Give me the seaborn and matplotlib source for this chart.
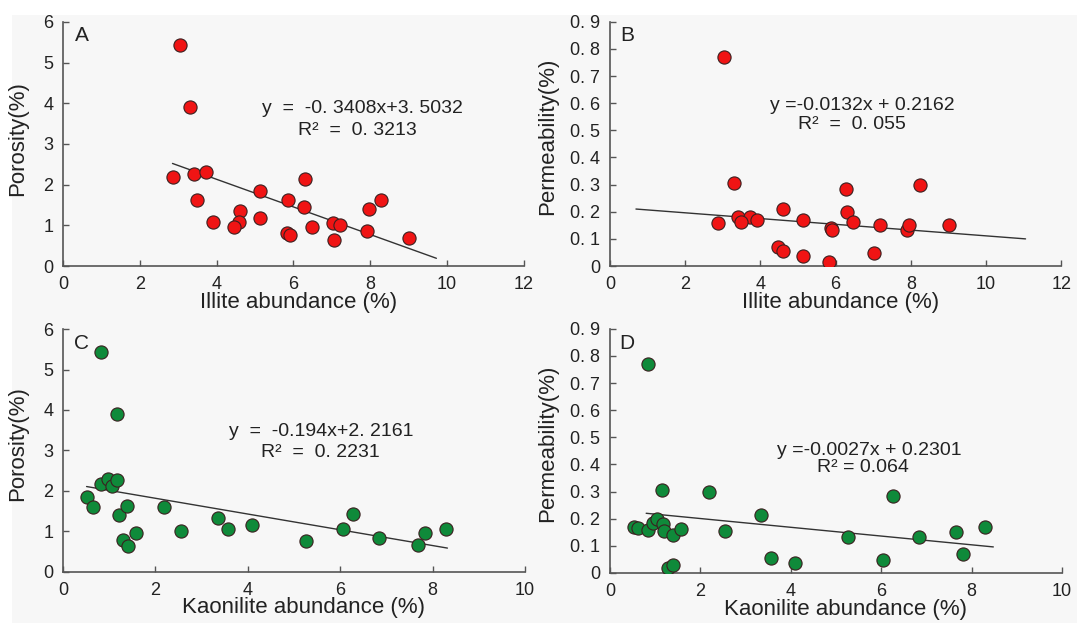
import matplotlib
matplotlib.use('Agg')
import matplotlib.pyplot as plt
import seaborn as sns
import pandas as pd
from matplotlib.patches import Rectangle

# illite vs porosity (A)
illite_a = [3.04, 3.31, 2.86, 3.41, 3.71, 3.48, 3.90, 4.61, 4.58, 4.46, 5.13, 5.13, 5.87,
            5.82, 5.92, 6.29, 6.27, 6.47, 7.03, 7.20, 7.05, 7.91, 7.97, 8.27, 9.02]
porosity_a = [5.44, 3.91, 2.18, 2.27, 2.30, 1.62, 1.07, 1.34, 1.07, 0.97, 1.85, 1.17, 1.63,
              0.80, 0.77, 2.13, 1.45, 0.97, 1.06, 1.02, 0.65, 0.86, 1.41, 1.61, 0.70]

# illite vs permeability (B)
illite_b = [3.03, 3.30, 2.87, 3.41, 3.73, 3.49, 3.90, 4.61, 4.48, 4.59, 5.13, 5.14, 5.88,
            5.91, 5.82, 6.27, 6.29, 6.47, 7.01, 7.19, 7.91, 7.96, 8.25, 9.02]
perm_b = [0.772, 0.305, 0.157, 0.182, 0.182, 0.164, 0.169, 0.211, 0.069, 0.055, 0.171, 0.037,
          0.139, 0.131, 0.016, 0.284, 0.200, 0.162, 0.048, 0.152, 0.132, 0.153, 0.298, 0.150]

# kaolinite vs porosity (C)
kaol_c = [0.83, 1.16, 0.53, 0.64, 0.83, 0.97, 1.05, 1.16, 1.21, 1.39, 1.30, 1.40, 1.57,
          2.18, 2.56, 3.36, 3.58, 4.09, 5.27, 6.07, 6.27, 6.84, 7.68, 7.83, 8.30]
porosity_c = [5.44, 3.90, 1.84, 1.60, 2.17, 2.30, 2.13, 2.27, 1.40, 1.63, 0.79, 0.63, 0.96,
              1.60, 1.00, 1.33, 1.05, 1.16, 0.76, 1.05, 1.43, 0.85, 0.67, 0.96, 1.06]

# kaolinite vs permeability (D)
kaol_d = [0.83, 1.15, 0.52, 0.63, 0.83, 0.96, 1.05, 1.17, 1.20, 1.40, 1.29, 1.40, 1.58,
          2.18, 2.54, 3.34, 3.56, 4.09, 5.27, 6.05, 6.26, 6.83, 7.66, 7.82, 8.30]
perm_d = [0.770, 0.305, 0.171, 0.165, 0.157, 0.183, 0.200, 0.182, 0.154, 0.139, 0.017, 0.030,
          0.162, 0.299, 0.153, 0.212, 0.057, 0.038, 0.132, 0.049, 0.283, 0.133, 0.151, 0.069, 0.169]

# trend lines as drawn (end points)
trend_a_x, trend_a_y = [2.85, 9.72], [2.52, 0.19]
trend_b_x, trend_b_y = [0.69, 11.05], [0.21, 0.10]
trend_c_x, trend_c_y = [0.51, 8.32], [2.11, 0.59]
trend_d_x, trend_d_y = [0.80, 8.48], [0.22, 0.096]

eq_a = ["y  =  -0. 3408x+3. 5032", "R²  =  0. 3213"]
eq_b = ["y =-0.0132x + 0.2162", "R²  =  0. 055"]
eq_c = ["y  =  -0.194x+2. 2161", "R²  =  0. 2231"]
eq_d = ["y =-0.0027x + 0.2301", "R² = 0.064"]

por_ticks = [0, 1, 2, 3, 4, 5, 6]
por_labels = ['0', '1', '2', '3', '4', '5', '6']
perm_ticks = [0, 0.1, 0.2, 0.3, 0.4, 0.5, 0.6, 0.7, 0.8, 0.9]
perm_labels = ['0', '0. 1', '0. 2', '0. 3', '0. 4', '0. 5', '0. 6', '0. 7', '0. 8', '0. 9']
illite_ticks = [0, 2, 4, 6, 8, 10, 12]
kaol_ticks = [0, 2, 4, 6, 8, 10]

sns.set_theme(style="ticks")
plt.rcParams['font.family'] = ['Liberation Sans', 'DejaVu Sans']

RED = '#f01414'
GREEN = '#0f8a3a'
TXT = '#222222'
SPINE = '#555555'
BG = '#f7f7f7'

fig = plt.figure(figsize=(10.77, 6.23), dpi=100)
fig.patches.append(Rectangle((12 / 1077, 0), 1, 1 - 15 / 623, transform=fig.transFigure,
                             facecolor=BG, edgecolor='none', zorder=-10))


def draw_panel(rect, x, y, color, tx, ty, eq, eq_pos, letter, letter_pos,
               xlabel, ylabel, xlim, xticks, ylim, yticks, ylabels, xlab_x, ylab_pos):
    ax = fig.add_axes(rect)
    ax.set_facecolor('none')
    df = pd.DataFrame({'x': x, 'y': y})
    sns.lineplot(x=tx, y=ty, ax=ax, color='#333333', linewidth=1.0)
    sns.scatterplot(data=df, x='x', y='y', ax=ax, color=color, s=90,
                    edgecolor='#3a2020', linewidth=0.8, zorder=3)
    ax.set_xlim(*xlim)
    ax.set_ylim(*ylim)
    ax.set_xticks(xticks)
    ax.set_xticklabels([str(t) for t in xticks])
    ax.set_yticks(yticks)
    ax.set_yticklabels(ylabels)
    sns.despine(ax=ax)
    for s in ['left', 'bottom']:
        ax.spines[s].set_color(SPINE)
        ax.spines[s].set_linewidth(1.2)
    ax.tick_params(direction='in', length=4, width=1.0, color=SPINE,
                   labelsize=13, labelcolor=TXT, pad=7)
    ax.set_xlabel(xlabel, fontsize=16, color=TXT)
    ax.set_ylabel(ylabel, fontsize=16, color=TXT)
    ax.xaxis.set_label_coords(xlab_x, -0.105)
    ax.yaxis.set_label_coords(*ylab_pos)
    ax.text(eq_pos[0], eq_pos[1], eq[0], ha='center', va='center', fontsize=14, color=TXT)
    ax.text(eq_pos[2], eq_pos[3], eq[1], ha='center', va='center', fontsize=14, color=TXT)
    ax.text(letter_pos[0], letter_pos[1], letter, transform=ax.transAxes,
            ha='center', va='center', fontsize=15, color=TXT)
    return ax


draw_panel([0.0585, 0.573, 0.428, 0.392], illite_a, porosity_a, RED, trend_a_x, trend_a_y,
           eq_a, (7.8, 3.86, 7.66, 3.34), 'A', (0.04, 0.945),
           'Illite abundance (%)', 'Porosity(%)', (0, 12), illite_ticks,
           (0, 6), por_ticks, por_labels, 0.51, (-0.076, 0.52))

draw_panel([0.5664, 0.573, 0.419, 0.392], illite_b, perm_b, RED, trend_b_x, trend_b_y,
           eq_b, (6.7, 0.59, 6.44, 0.52), 'B', (0.038, 0.945),
           'Illite abundance (%)', 'Permeability(%)', (0, 12), illite_ticks,
           (0, 0.9), perm_ticks, perm_labels, 0.512, (-0.115, 0.53))

draw_panel([0.0585, 0.0819, 0.429, 0.390], kaol_c, porosity_c, GREEN, trend_c_x, trend_c_y,
           eq_c, (5.6, 3.46, 5.58, 2.96), 'C', (0.04, 0.94),
           'Kaonilite abundance (%)', 'Porosity(%)', (0, 10), kaol_ticks,
           (0, 6), por_ticks, por_labels, 0.52, (-0.076, 0.53))

draw_panel([0.5664, 0.0803, 0.4197, 0.392], kaol_d, perm_d, GREEN, trend_d_x, trend_d_y,
           eq_d, (5.73, 0.45, 5.6, 0.387), 'D', (0.038, 0.94),
           'Kaonilite abundance (%)', 'Permeability(%)', (0, 10), kaol_ticks,
           (0, 0.9), perm_ticks, perm_labels, 0.52, (-0.115, 0.53))

fig.savefig('out.png', dpi=100, facecolor='white')
